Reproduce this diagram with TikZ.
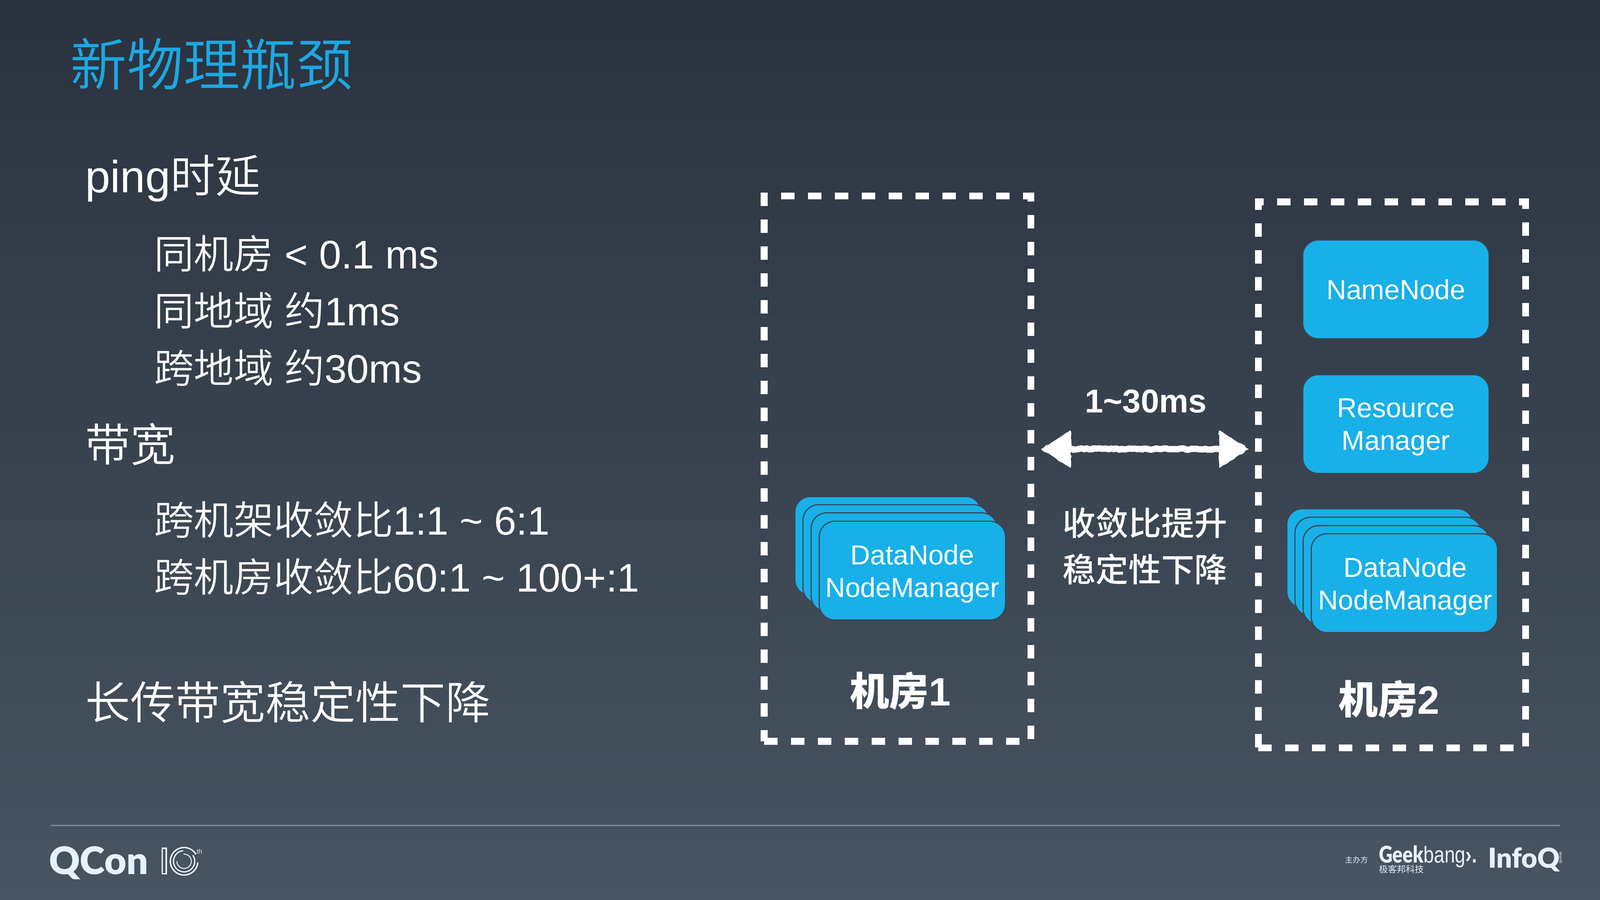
\documentclass[tikz,border=0pt]{standalone}
\usepackage{fontspec}
\usetikzlibrary{arrows.meta,decorations.pathmorphing}
\setmainfont{Liberation Sans}
\newfontfamily\zhmedium{Noto Sans CJK SC Medium}
\newfontfamily\zhfont{Noto Sans CJK SC}
\newfontfamily\zhlight{Noto Sans CJK SC DemiLight}
\newfontfamily\logofont{Lato Black}
\definecolor{slidetop}{RGB}{42,50,62}
\definecolor{slidebottom}{RGB}{72,84,97}
\definecolor{titleblue}{RGB}{27,168,227}
\definecolor{boxblue}{RGB}{24,176,232}
\definecolor{boxedge}{RGB}{58,68,82}
\definecolor{logopale}{RGB}{227,243,250}
\definecolor{footline}{RGB}{126,143,153}
\tikzset{
 headtext/.style={anchor=base west, inner sep=0pt, text=white, font=\fontsize{41}{42}\selectfont},
 itemtext/.style={anchor=base west, inner sep=0pt, text=white, font=\fontsize{36.3}{37}\selectfont},
 roombox/.style={draw=white, line width=.22cm, dash pattern=on .43cm off .43cm, inner sep=0pt, minimum width=#1},
 nodebox/.style={fill=boxblue, draw=boxedge, line width=.035cm, rounded corners=.5cm, inner sep=0pt,
   minimum width=5.96cm, minimum height=3.16cm},
 boxtext/.style={align=center, text=white, inner sep=0pt, font=\fontsize{25}{29.7}\selectfont},
 roomlabel/.style={text=white, inner sep=0pt, font=\fontsize{36}{36}\selectfont\bfseries},
 roughhead/.style={fill=white, draw=white, line width=.015cm, line join=round, decorate,
   decoration={random steps, segment length=.09cm, amplitude=.03cm}},
 logotext/.style={text=logopale, inner sep=0pt},
 ringline/.style={draw=logopale, line width=#1},
}
\begin{document}
\begin{tikzpicture}
 \shade[top color=slidetop, bottom color=slidebottom] (0,0) rectangle (51.19,-28.79);
 \useasboundingbox (0,0) rectangle (51.19,-28.79);

 \node[anchor=base west, inner sep=0pt, text=titleblue, font=\fontsize{51.5}{52}\selectfont\zhlight] (title) at (2.24,-2.74) {新物理瓶颈};

 \node[headtext] (ping) at (2.72,-6.16) {ping{\zhlight 时延}};
 \node[itemtext] (ping1) at (4.92,-8.59) {{\zhlight 同机房} < 0.1 ms};
 \node[itemtext] (ping2) at (4.92,-10.42) {{\zhlight 同地域} {\zhlight 约}1ms};
 \node[itemtext] (ping3) at (4.92,-12.25) {{\zhlight 跨地域} {\zhlight 约}30ms};
 \node[headtext] (band) at (2.72,-14.76) {\zhlight 带宽};
 \node[itemtext] (band1) at (4.92,-17.11) {{\zhlight 跨机架收敛比}1:1 \textasciitilde{} 6:1};
 \node[itemtext] (band2) at (4.92,-18.94) {{\zhlight 跨机房收敛比}60:1 \textasciitilde{} 100+:1};
 \node[headtext] (longhaul) at (2.72,-23.01) {\zhlight 长传带宽稳定性下降};

 \node[roombox=8.53cm, minimum height=17.45cm] (room1) at (28.715,-14.995) {};
 \node[roombox=8.55cm, minimum height=17.47cm] (room2) at (44.535,-15.195) {};

 \node[nodebox] (name) at (44.66,-9.26) {};
 \node[boxtext] (nametext) at (name) {NameNode};
 \node[nodebox] (res)  at (44.66,-13.57) {};
 \node[boxtext] (restext) at ([yshift=-.1cm]res) {Resource\\Manager};

 \node[nodebox] (dn1d) at (28.41,-17.47) {};
 \node[nodebox] (dn1c) at (28.67,-17.73) {};
 \node[nodebox] (dn1b) at (28.93,-17.99) {};
 \node[nodebox] (dn1a) at (29.19,-18.26) {};
 \node[boxtext] (dn1text) at ([yshift=-.1cm]dn1a) {DataNode\\NodeManager};

 \node[nodebox] (dn2d) at (44.15,-17.86) {};
 \node[nodebox] (dn2c) at (44.41,-18.13) {};
 \node[nodebox] (dn2b) at (44.67,-18.40) {};
 \node[nodebox] (dn2a) at (44.93,-18.66) {};
 \node[boxtext] (dn2text) at ([xshift=.03cm,yshift=-.1cm]dn2a) {DataNode\\NodeManager};

 \node[roomlabel] (label1) at (28.80,-22.11) {{\zhmedium 机房}1};
 \node[roomlabel] (label2) at (44.44,-22.37) {{\zhmedium 机房}2};

 \node[text=white, inner sep=0pt, anchor=base, font=\fontsize{30}{30}\selectfont\bfseries] (lat) at (36.66,-13.20) {1\textasciitilde{}30ms};
 \node[text=white, inner sep=0pt, align=center, font=\fontsize{30}{42.3}\selectfont\zhmedium] (ratio) at (36.63,-17.47) {收敛比提升\\稳定性下降};

 \coordinate (arrowl) at (33.32,-14.37);
 \coordinate (arrowr) at (39.94,-14.37);
 \draw[white, line width=.2cm, line join=round, {Triangle[length=.93cm,width=1.15cm]}-{Triangle[length=.93cm,width=1.15cm]},
   decorate, decoration={random steps, segment length=.07cm, amplitude=.025cm, pre length=.9cm, post length=.9cm}] (arrowl) -- (arrowr);
 \draw[roughhead] (arrowl) -- ++(.93,.58) -- ++(0,-1.16) -- cycle;
 \draw[roughhead] (arrowr) -- ++(-.93,.58) -- ++(0,-1.16) -- cycle;

 % footer
 \coordinate (footl) at (1.63,-26.41);
 \coordinate (footr) at (49.92,-26.41);
 \draw[footline, line width=.04cm] (footl) -- (footr);

 \node[logotext, anchor=base west, font=\fontsize{34.6}{35}\selectfont\logofont] (qcon) at (1.56,-27.98) {QCon};
 \draw[ringline=.05cm] (5.19,-27.15) rectangle (5.32,-27.96);
 \draw[ringline=.045cm] (5.89,-27.56) ++(30:.44) arc[start angle=30, end angle=355, radius=.44];
 \draw[ringline=.04cm] (5.89,-27.56) ++(95:.34) arc[start angle=95, end angle=395, radius=.34];
 \draw[ringline=.03cm] (5.89,-27.56) ++(180:.23) arc[start angle=180, end angle=455, radius=.23];
 \node[logotext, font=\fontsize{6}{6}\selectfont] (tenth) at (6.38,-27.24) {th};

 \node[logotext, anchor=west, font=\fontsize{7}{7}\selectfont\zhfont] (host) at (43.03,-27.51) {主办方};
 \node[logotext, anchor=base west, font=\fontsize{21}{21}\selectfont] (geek) at (44.11,-27.61) {\scalebox{.82}[1]{{\logofont Geek}bang\textbf{›.}}};
 \node[logotext, anchor=west, font=\fontsize{8.2}{8}\selectfont\zhfont] (geekzh) at (44.11,-27.81) {极客邦科技};
 \node[logotext, anchor=base west, font=\fontsize{25}{25}\selectfont\logofont] (infoq) at (47.60,-27.77) {InfoQ};
 \node[logotext, rotate=90, font=\fontsize{3.8}{4}\selectfont] (queue) at (49.94,-27.44) {queue};
\end{tikzpicture}
\end{document}
